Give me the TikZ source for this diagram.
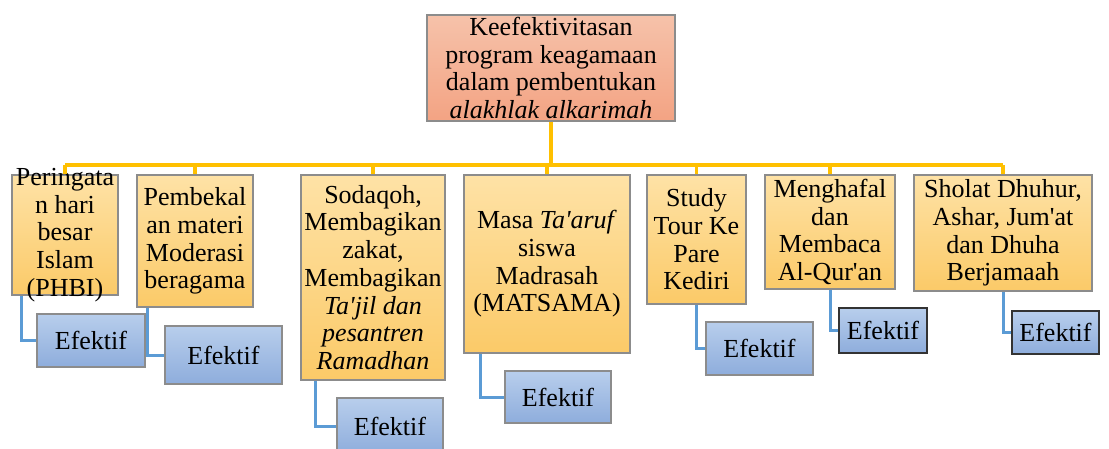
\documentclass[tikz,border=0pt]{standalone}
\usepackage{fontspec}
\newfontfamily\tnr{Liberation Serif}
\definecolor{orTop}{HTML}{FEE2A6}
\definecolor{orBot}{HTML}{FBCA68}
\definecolor{rdTop}{HTML}{F6C2AA}
\definecolor{rdBot}{HTML}{F3A383}
\definecolor{blTop}{HTML}{B8CEEC}
\definecolor{blBot}{HTML}{8EADDC}
\definecolor{boxgray}{HTML}{8C8C8C}
\definecolor{ylw}{HTML}{FFC000}
\definecolor{bln}{HTML}{5B9BD5}
\begin{document}
\begin{tikzpicture}[x=1pt,y=-1pt,
  lbl/.style={font=\tnr\fontsize{26}{27.7}\selectfont, align=center, inner sep=0pt},
  framed/.style={lbl, draw=boxgray, line width=1.3pt},
  orangebox/.style={framed, top color=orTop, bottom color=orBot},
  rootbox/.style={framed, top color=rdTop, bottom color=rdBot},
  effbox/.style={framed, top color=blTop, bottom color=blBot},
  yline/.style={draw=ylw, line width=3.5pt},
  bline/.style={draw=bln, line width=3pt}]
\useasboundingbox (0,0) rectangle (1109,448);

% root
\node[rootbox, minimum width=248, minimum height=106] (top) at (551,68)
  {Keefektivitasan\\program keagamaan\\dalam pembentukan\\\textit{alakhlak alkarimah}};

% programme boxes
\node[orangebox, minimum width=106, minimum height=120] (b1) at (65,235) {};
\node[lbl] (b1t) at (b1.center) {Peringata\\n hari\\besar\\Islam\\(PHBI)};
\node[orangebox, minimum width=116, minimum height=132] (b2) at (195,241)
  {Pembekal\\an materi\\Moderasi\\beragama};
\node[orangebox, minimum width=144, minimum height=205] (b3) at (373,277.5)
  {Sodaqoh,\\Membagikan\\zakat,\\Membagikan\\\textit{Ta'jil dan}\\\textit{pesantren}\\\textit{Ramadhan}};
\node[orangebox, minimum width=166, minimum height=178] (b4) at (547,264)
  {Masa \textit{Ta'aruf}\\siswa\\Madrasah\\(MATSAMA)};
\node[orangebox, minimum width=99, minimum height=129] (b5) at (696.5,239.5)
  {Study\\Tour Ke\\Pare\\Kediri};
\node[orangebox, minimum width=130, minimum height=114] (b6) at (830,232)
  {Menghafal\\dan\\Membaca\\Al-Qur'an};
\node[orangebox, minimum width=178, minimum height=116] (b7) at (1003,233)
  {Sholat Dhuhur,\\Ashar, Jum'at\\dan Dhuha\\Berjamaah};

% result boxes
\node[effbox, minimum width=108, minimum height=53] (e1) at (91,340.5) {Efektif};
\node[effbox, minimum width=117, minimum height=58] (e2) at (223.5,355) {Efektif};
\node[effbox, minimum width=106, minimum height=56] (e3) at (390,426) {Efektif};
\node[effbox, minimum width=106, minimum height=52] (e4) at (558,397) {Efektif};
\node[effbox, minimum width=107, minimum height=53] (e5) at (759.5,348.5) {Efektif};
\node[effbox, draw=black!80, minimum width=88, minimum height=45] (e6) at (883,330.5) {Efektif};
\node[effbox, draw=black!80, minimum width=87, minimum height=43] (e7) at (1055.5,332.5) {Efektif};

% yellow tree connectors
\coordinate (bus) at (0,165);
\draw[yline] (top.south) -- (top.south |- bus);
\draw[yline] (b1.north |- bus) -- (b7.north |- bus);
\foreach \b in {b1,b2,b3,b4,b5,b6,b7}
  \draw[yline] (\b.north) -- (\b.north |- bus);

% blue connectors
\draw[bline] ([xshift=10]b1.south west) |- (e1.west);
\draw[bline] ([xshift=11]b2.south west) |- (e2.west);
\draw[bline] ([xshift=15]b3.south west) |- (e3.west);
\draw[bline] ([xshift=17]b4.south west) |- (e4.west);
\draw[bline] (b5.south) |- (e5.west);
\draw[bline] (b6.south) |- (e6.west);
\draw[bline] (b7.south) |- (e7.west);
\end{tikzpicture}
\end{document}
